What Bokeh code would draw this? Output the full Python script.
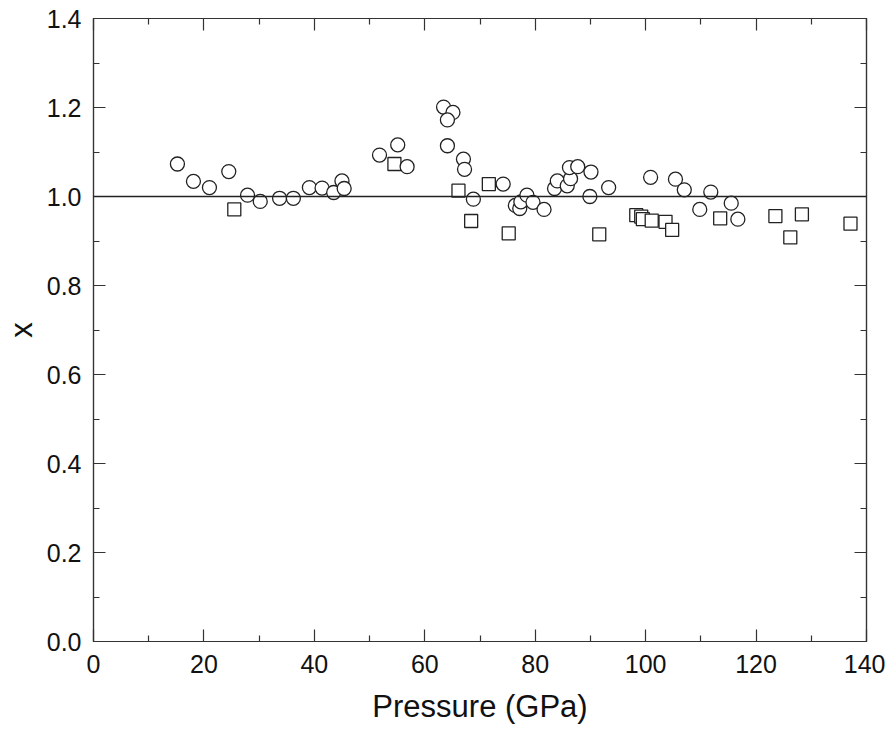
from bokeh.plotting import figure
from bokeh.models import Span, LinearAxis, FixedTicker, Range1d, PrintfTickFormatter
from bokeh.embed import file_html
from bokeh.resources import INLINE

# Circles (pressure GPa, x)
circ_p = [15.2, 18.1, 21.0, 24.5, 27.9, 30.2, 33.7, 36.2, 39.1, 41.4, 43.5, 45.0, 45.4,
          51.8, 55.1, 56.8, 63.4, 65.1, 64.1, 64.1, 67.0, 67.2, 68.8, 74.2, 76.4, 77.2,
          77.4, 78.5, 79.6, 81.6, 83.5, 84.0, 85.8, 86.4, 86.2, 87.7, 90.1, 89.9, 93.3,
          100.9, 105.4, 107.0, 109.8, 111.8, 115.5, 116.7]
circ_x = [1.073, 1.034, 1.020, 1.056, 1.003, 0.989, 0.996, 0.996, 1.020, 1.019, 1.009, 1.035, 1.018,
          1.093, 1.116, 1.067, 1.201, 1.189, 1.172, 1.114, 1.084, 1.061, 0.994, 1.028, 0.980, 0.973,
          0.988, 1.003, 0.987, 0.971, 1.018, 1.035, 1.024, 1.040, 1.065, 1.067, 1.055, 1.000, 1.020,
          1.043, 1.039, 1.015, 0.971, 1.010, 0.985, 0.949]

# Squares
sq_p = [25.5, 54.5, 66.1, 71.6, 68.4, 75.2, 91.6, 98.3, 99.2, 99.5, 101.1, 103.6, 104.8,
        113.5, 123.5, 126.2, 128.3, 137.1]
sq_x = [0.971, 1.073, 1.013, 1.028, 0.945, 0.917, 0.915, 0.958, 0.955, 0.949, 0.946, 0.943, 0.925,
        0.951, 0.956, 0.908, 0.960, 0.939]

x_ticks = [0, 20, 40, 60, 80, 100, 120, 140]
y_ticks = [0.0, 0.2, 0.4, 0.6, 0.8, 1.0, 1.2, 1.4]
x_minor = [10, 30, 50, 70, 90, 110, 130]
y_minor = [0.1, 0.3, 0.5, 0.7, 0.9, 1.1, 1.3]
ref_level = 1.0

FONT = "Liberation Sans"

p = figure(frame_width=773, frame_height=623, output_backend="svg", toolbar_location=None,
           x_range=Range1d(0, 140), y_range=Range1d(0, 1.4),
           min_border_left=70, min_border_top=18, min_border_right=19, min_border_bottom=80)
p.xgrid.visible = False
p.ygrid.visible = False
p.outline_line_color = "#333333"
p.outline_line_width = 1.2
p.background_fill_color = "white"
p.border_fill_color = "white"

def style_axis(ax, ticks, minor, labels=True):
    ax.ticker = FixedTicker(ticks=ticks, minor_ticks=minor)
    ax.major_tick_in = 12
    ax.major_tick_out = 0
    ax.minor_tick_in = 6
    ax.minor_tick_out = 0
    ax.axis_line_color = "#333333"
    ax.axis_line_width = 1.2
    ax.major_tick_line_color = "#333333"
    ax.minor_tick_line_color = "#333333"
    ax.major_tick_line_width = 1.2
    ax.minor_tick_line_width = 1.2
    ax.major_label_text_font = FONT
    ax.major_label_text_font_size = "25px"
    ax.major_label_text_color = "#111111"
    ax.axis_label_text_font = FONT
    ax.axis_label_text_font_style = "normal"
    ax.axis_label_text_font_size = "31px"
    ax.axis_label_text_color = "#111111"
    if not labels:
        ax.major_label_text_font_size = "0px"
        ax.major_label_text_alpha = 0

style_axis(p.xaxis[0], x_ticks, x_minor)
style_axis(p.yaxis[0], y_ticks, y_minor)
p.xaxis[0].major_label_standoff = 13
p.yaxis[0].major_label_standoff = 12
p.yaxis[0].formatter = PrintfTickFormatter(format="%.1f")
p.xaxis[0].axis_label = "Pressure (GPa)"
p.xaxis[0].axis_label_standoff = 13
p.yaxis[0].axis_label = "x"
p.yaxis[0].axis_label_standoff = 5

top = LinearAxis()
style_axis(top, x_ticks, x_minor, labels=False)
p.add_layout(top, "above")
right = LinearAxis()
style_axis(right, y_ticks, y_minor, labels=False)
p.add_layout(right, "right")

p.add_layout(Span(location=ref_level, dimension="width", line_color="#222222", line_width=1.3))

p.scatter(sq_p, sq_x, marker="square", size=13, fill_color="white",
          line_color="#222222", line_width=1.3)
p.scatter(circ_p, circ_x, marker="circle", size=14, fill_color="white",
          line_color="#222222", line_width=1.3)

open("out.html", "w").write(file_html(p, INLINE))
